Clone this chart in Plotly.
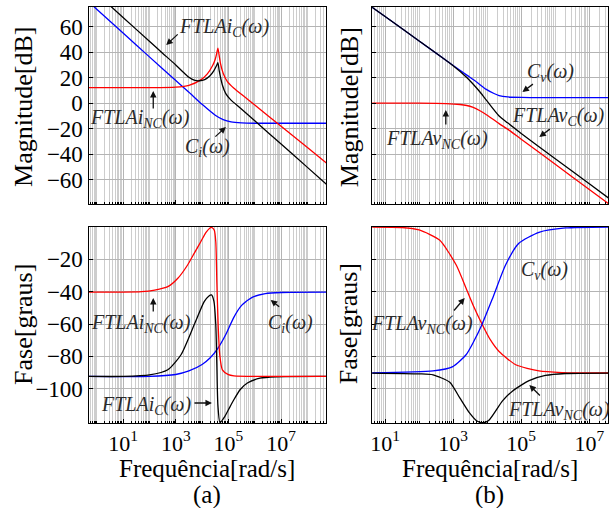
import numpy as np
import plotly.graph_objects as go

# ---------------- (a) corrente ----------------
# frequencies given as log10(w), w in rad/s
a_mag_ci_logw = [-0.31, 0, 1, 2, 3, 3.5, 4.0, 4.5, 4.8, 5.1, 5.5, 6, 7, 8, 8.72]
a_mag_ci_db = [79.5, 73.7, 55.0, 36.3, 17.8, 8.6, -0.9, -9.4, -12.8, -14.6, -15.4, -15.7, -15.7, -15.7, -15.7]

a_mag_nc_logw = [-0.31, 1, 2, 3.0, 3.5, 3.95, 4.2, 4.4, 4.5, 4.56, 4.6, 4.64, 4.7, 4.8, 4.96, 5.21, 5.6, 6, 7, 8, 8.72]
a_mag_nc_db = [12.2, 12.2, 12.2, 12.6, 14.0, 18.3, 23.0, 29.5, 34.5, 39.5, 43.1, 38.5, 31.0, 23.5, 17.0, 11.8, 5.3, -1.4, -18.1, -34.8, -46.8]

a_mag_c_logw = [0, 1, 2, 2.5, 3.0, 3.3, 3.5, 3.7, 3.9, 4.1, 4.3, 4.45, 4.55, 4.6, 4.65, 4.77, 4.9, 5.09, 5.46, 6, 7, 8, 8.72]
a_mag_c_db = [85.9, 67.2, 48.5, 39.2, 30.0, 24.0, 20.3, 18.0, 17.6, 18.5, 21.5, 25.5, 29.5, 31.8, 25.5, 14.3, 7.5, 2.6, -3.9, -13.8, -32.0, -50.3, -63.5]

a_ph_nc_logw = [-0.31, 1, 1.7, 2.2, 2.7, 3.08, 3.45, 3.7, 3.95, 4.15, 4.3, 4.36, 4.46, 4.52, 4.56, 4.61, 4.67, 4.77, 5.0, 5.21, 6, 8.72]
a_ph_nc_deg = [-40.3, -40.3, -40.0, -39.0, -36.9, -31.7, -23.5, -16.3, -9.1, -3.3, -0.6, -0.3, -1.9, -9.1, -33.8, -60.5, -79.0, -88.3, -91.3, -92.0, -92.4, -92.4]

a_ph_c_logw = [-0.31, 1, 2, 2.7, 3.2, 3.7, 4.08, 4.25, 4.36, 4.45, 4.52, 4.56, 4.6, 4.68, 4.85, 5.0, 5.2, 5.45, 5.72, 6.2, 6.8, 8.72]
a_ph_c_deg = [-92.4, -92.4, -91.5, -88.3, -79.0, -60.5, -46.2, -42.8, -42.0, -46.0, -60.5, -85.0, -110.0, -121.0, -117.5, -113.0, -107.0, -100.5, -96.5, -93.5, -92.6, -92.4]

a_ph_ci_logw = [-0.31, 2, 3, 3.5, 4.0, 4.3, 4.6, 4.9, 5.2, 5.5, 5.9, 6.4, 7, 8.72]
a_ph_ci_deg = [-92.4, -92.4, -91.2, -89.0, -85.0, -81.0, -75.0, -66.5, -56.0, -48.5, -43.5, -41.2, -40.5, -40.3]

# ---------------- (b) tensao ----------------
b_mag_cv_logw = [0.6, 1, 2, 3, 3.4, 3.7, 3.96, 4.2, 4.35, 4.6, 5.0, 5.5, 7.6]
b_mag_cv_db = [75.5, 68.0, 48.8, 29.6, 22.0, 16.4, 11.0, 7.6, 6.0, 4.9, 4.5, 4.4, 4.4]

b_mag_nc_logw = [0.6, 2, 2.8, 3.2, 3.4, 3.57, 3.8, 4.0, 4.35, 4.6, 5, 6, 7, 7.6]
b_mag_nc_db = [0.0, 0.0, -0.3, -1.0, -1.8, -3.1, -6.1, -9.4, -16.0, -20.3, -28.2, -47.9, -67.6, -79.4]

b_mag_c_logw = [0.6, 1, 2, 3, 3.4, 3.57, 3.8, 4.0, 4.35, 4.6, 5, 6, 7, 7.6]
b_mag_c_db = [75.5, 68.0, 48.8, 29.4, 20.2, 15.4, 8.4, 1.6, -10.0, -15.4, -23.7, -43.5, -63.2, -75.0]

b_ph_nc_logw = [0.6, 1.5, 2.0, 2.6, 3.09, 3.38, 3.6, 3.85, 4.1, 4.35, 4.84, 5.52, 6.2, 7.6]
b_ph_nc_deg = [0.0, -0.3, -1.8, -8.1, -23.5, -37.9, -49.0, -60.1, -70.0, -77.0, -85.2, -89.0, -90.0, -90.3]

b_ph_cv_logw = [0.6, 2.41, 2.99, 3.38, 3.6, 3.85, 4.16, 4.54, 4.93, 5.52, 6.3, 7.6]
b_ph_cv_deg = [-90.3, -89.0, -86.3, -79.0, -71.0, -60.1, -44.0, -23.5, -10.1, -3.3, -0.6, 0.0]

b_ph_c_logw = [0.6, 2.0, 2.41, 2.9, 3.19, 3.48, 3.7, 3.87, 4.05, 4.45, 4.74, 5.23, 5.71, 6.3, 7.6]
b_ph_c_deg = [-90.3, -90.8, -91.4, -96.0, -105.5, -115.0, -120.0, -121.0, -119.5, -107.5, -101.5, -95.0, -91.8, -90.6, -90.3]

odd_decades = [1e1, 1e3, 1e5, 1e7]
odd_decade_text = ["10<sup>1</sup>", "10<sup>3</sup>", "10<sup>5</sup>", "10<sup>7</sup>"]
mag_ticks = [-60, -40, -20, 0, 20, 40, 60]
phase_ticks = [-100, -80, -60, -40, -20]

RED, BLUE, BLACK = "#ff0000", "#0000ff", "#000000"
SERIF = "'Liberation Serif', 'Times New Roman', Tinos, 'DejaVu Serif', serif"
W, H = 609, 508


def w_of(logw):
    return 10 ** np.asarray(logw, dtype=float)


fig = go.Figure()


def curve(logw, vals, color, ax):
    fig.add_trace(go.Scatter(
        x=w_of(logw), y=vals, mode="lines",
        line=dict(color=color, width=1.3, shape="spline", smoothing=0.6),
        xaxis="x" + ax, yaxis="y" + ax, showlegend=False, hoverinfo="skip"))


# top-left: magnitude (a)
curve(a_mag_ci_logw, a_mag_ci_db, BLUE, "")
curve(a_mag_nc_logw, a_mag_nc_db, RED, "")
curve(a_mag_c_logw, a_mag_c_db, BLACK, "")
# top-right: magnitude (b)
curve(b_mag_nc_logw, b_mag_nc_db, RED, "2")
curve(b_mag_cv_logw, b_mag_cv_db, BLUE, "2")
curve(b_mag_c_logw, b_mag_c_db, BLACK, "2")
# bottom-left: phase (a)
curve(a_ph_ci_logw, a_ph_ci_deg, BLUE, "3")
curve(a_ph_c_logw, a_ph_c_deg, BLACK, "3")
curve(a_ph_nc_logw, a_ph_nc_deg, RED, "3")
# bottom-right: phase (b)
curve(b_ph_nc_logw, b_ph_nc_deg, RED, "4")
curve(b_ph_cv_logw, b_ph_cv_deg, BLUE, "4")
curve(b_ph_c_logw, b_ph_c_deg, BLACK, "4")

GRID = "#b4b4b4"
MINOR = "#cdcdcd"


def xaxis(domain, rng, labels, anchor):
    return dict(
        type="log", domain=domain, range=rng, anchor=anchor,
        tickmode="array", tickvals=odd_decades,
        ticktext=odd_decade_text if labels else [""] * 4,
        showticklabels=labels,
        tickfont=dict(family=SERIF, size=22, color="black"),
        showgrid=True, gridcolor=GRID, gridwidth=1,
        ticks="inside", ticklen=4, tickcolor="black",
        minor=dict(showgrid=True, gridcolor=MINOR, gridwidth=1, dtick="D1",
                   ticks="inside", ticklen=2, tickcolor="black"),
        showline=True, linecolor="black", linewidth=1.2, mirror=True,
        zeroline=False, fixedrange=True)


def yaxis(domain, rng, ticks, labels, anchor):
    return dict(
        domain=domain, range=rng, anchor=anchor,
        tickmode="array", tickvals=ticks, showticklabels=labels,
        tickfont=dict(family=SERIF, size=23, color="black"),
        showgrid=True, gridcolor=GRID, gridwidth=1,
        ticks="inside", ticklen=4, tickcolor="black",
        showline=True, linecolor="black", linewidth=1.2, mirror=True,
        zeroline=False, fixedrange=True)


left_dom = [87 / W, 326 / W]
right_dom = [372 / W, 1.0]
top_dom = [1 - 204 / H, 1 - 7 / H]
bot_dom = [1 - 423 / H, 1 - 227 / H]
left_rng = [-0.31, 8.72]
right_rng = [0.62, 7.55]
mag_rng = [-79.0, 75.4]
ph_rng = [-121.2, 0.0]

fig.update_layout(
    width=W, height=H, margin=dict(l=0, r=0, t=0, b=0),
    paper_bgcolor="white", plot_bgcolor="white",
    font=dict(family=SERIF),
    xaxis=xaxis(left_dom, left_rng, False, "y"),
    yaxis=yaxis(top_dom, mag_rng, mag_ticks, True, "x"),
    xaxis2=xaxis(right_dom, right_rng, False, "y2"),
    yaxis2=yaxis(top_dom, mag_rng, mag_ticks, False, "x2"),
    xaxis3=xaxis(left_dom, left_rng, True, "y3"),
    yaxis3=yaxis(bot_dom, ph_rng, phase_ticks, True, "x3"),
    xaxis4=xaxis(right_dom, right_rng, True, "y4"),
    yaxis4=yaxis(bot_dom, ph_rng, phase_ticks, False, "x4"),
)


def P(px, py):
    return px / W, 1 - py / H


ann = []
# axis titles
for txt, cx, cy, rot, size in [
    ("Magnitude[dB]", 22, 107, -90, 26), ("Magnitude[dB]", 350, 107, -90, 26),
    ("Fase[graus]", 21, 324, -90, 26), ("Fase[graus]", 348, 324, -90, 26),
    ("Frequência[rad/s]", 206, 468, 0, 25), ("Frequência[rad/s]", 490, 468, 0, 25),
    ("(a)", 206, 495, 0, 25), ("(b)", 490, 495, 0, 25),
]:
    x, y = P(cx, cy)
    ann.append(dict(text=txt, x=x, y=y, xref="paper", yref="paper",
                    xanchor="center", yanchor="middle", showarrow=False,
                    textangle=rot, font=dict(family=SERIF, size=size, color="black")))

# curve labels: text centre, arrow head, arrow tail (pixels)
curve_labels = [
    ("FTLAi<sub>C</sub>(ω)", 223, 27, (165, 45), (178, 33)),
    ("FTLAi<sub>NC</sub>(ω)", 139, 118, (152, 91), (152, 110)),
    ("C<sub>i</sub>(ω)", 207, 148, (225, 127), (213, 138)),
    ("C<sub>v</sub>(ω)", 551, 73, (523, 92), (535, 83)),
    ("FTLAv<sub>C</sub>(ω)", 559, 116, (540, 137), (552, 128)),
    ("FTLAv<sub>NC</sub>(ω)", 437, 140, (446, 110), (446, 126)),
    ("FTLAi<sub>NC</sub>(ω)", 140, 323, (152, 298), (152, 313)),
    ("C<sub>i</sub>(ω)", 290, 323, (270, 300), (280, 308)),
    ("FTLAi<sub>C</sub>(ω)", 145, 405, (211, 403), (192, 403)),
    ("C<sub>v</sub>(ω)", 545, 270, (528, 243), (540, 255)),
    ("FTLAv<sub>NC</sub>(ω)", 422, 324, (465, 298), (453, 312)),
    ("FTLAv<sub>NC</sub>(ω)", 560, 410, (530, 385), (542, 397)),
]
for txt, cx, cy, head, tail in curve_labels:
    x, y = P(cx, cy)
    ann.append(dict(text="<i>" + txt + "</i>", x=x, y=y, xref="paper", yref="paper",
                    xanchor="center", yanchor="middle", showarrow=False,
                    font=dict(family=SERIF, size=20, color="#2a2a2a")))
    hx, hy = P(*head)
    ann.append(dict(text="", x=hx, y=hy, xref="paper", yref="paper",
                    showarrow=True, arrowhead=2, arrowsize=1, arrowwidth=1.3,
                    arrowcolor="#111111",
                    ax=tail[0] - head[0], ay=tail[1] - head[1]))

fig.update_layout(annotations=ann)
fig.write_html("out.html")
